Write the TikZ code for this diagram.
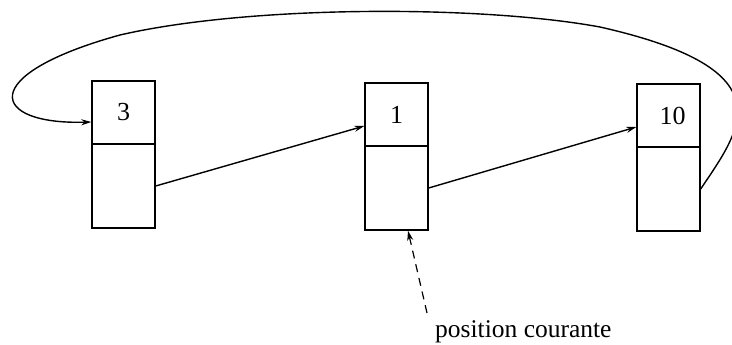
\documentclass[tikz,border=0pt]{standalone}
\usepackage{fontspec}
\setmainfont{Liberation Serif}
\usetikzlibrary{arrows.meta}
\begin{document}
\begin{tikzpicture}[x=1pt,y=-1pt,
  cell/.style={draw,line width=1.4pt,minimum width=63pt,inner sep=0pt,font=\fontsize{26}{28}\selectfont},
  link/.style={line width=1.4pt,-{Stealth[length=10pt,width=6pt]}},
  ptr/.style={line width=1.2pt,dash pattern=on 8pt off 6pt,-{Stealth[length=10pt,width=6pt]}}]
\useasboundingbox (0,0) rectangle (732,345);
% box 1
\node[cell,minimum height=63pt] (t1) at (123.5,112.5) {3};
\node[cell,minimum height=84pt] (b1) at (123.5,186) {};
% box 2
\node[cell,minimum height=63pt] (t2) at (396.5,114.5) {1};
\node[cell,minimum height=84pt] (b2) at (396.5,188) {};
% box 3
\node[cell,minimum height=63pt] (t3) at (668.5,115.5) {\hspace{8pt}10};
\node[cell,minimum height=84pt] (b3) at (668.5,189) {};
% links
\draw[link] (b1.east) -- ([yshift=-11.5pt]t2.west);
\draw[link] (b2.east) -- ([yshift=-11.5pt]t3.west);
\draw[link] (b3.east) .. controls (740,130) and (790,70) .. (600,27)
  .. controls (480,5) and (250,5) .. (120,35)
  .. controls (-25,75) and (-10,125) .. ([yshift=-9.5pt]t1.west);
% current position
\node[anchor=base west,inner sep=0pt,font=\fontsize{25.5}{28}\selectfont] (lbl) at (435,337) {position courante};
\coordinate (d) at (427,313);
\draw[ptr] (d) -- ([xshift=11.5pt]b2.south);
\end{tikzpicture}
\end{document}
